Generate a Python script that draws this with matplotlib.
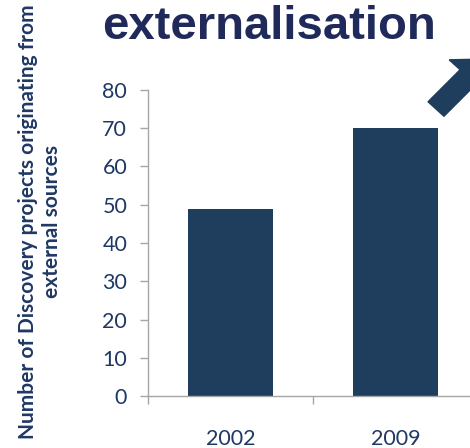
import matplotlib
matplotlib.use("Agg")
import matplotlib.pyplot as plt
from matplotlib.patches import FancyArrow

categories = ["2002", "2009"]
values = [49, 70]
yticks = [0, 10, 20, 30, 40, 50, 60, 70, 80]
title = "externalisation"
ylabel = "Number of Discovery projects originating from\nexternal sources"

W, H = 470, 448
fig = plt.figure(figsize=(W / 100, H / 100), dpi=100)
ax = fig.add_axes([148 / W, 1 - 396 / H, (478 - 148) / W, (396 - 90) / H])

bar_color = "#1f3d5c"
text_color = "#1f3864"
axis_color = "#a6a6a6"

x = list(range(len(categories)))
ax.bar(x, values, width=0.51, color=bar_color, zorder=2)
ax.set_xlim(-0.5, len(categories) - 0.5)
ax.set_ylim(0, 80)
ax.set_yticks(yticks)
ax.set_yticklabels([str(t) for t in yticks])

ax.set_xticks([i - 0.5 for i in range(len(categories) + 1)])
ax.set_xticklabels([])
ax.set_xticks(x, minor=True)
ax.set_xticklabels(categories, minor=True)
ax.tick_params(axis="x", which="major", direction="out", length=6, color=axis_color, width=1)
ax.tick_params(axis="x", which="minor", length=0, pad=24, labelsize=15.5, labelcolor=text_color)
ax.tick_params(axis="y", direction="out", length=6, color=axis_color, width=1, pad=9,
               labelsize=15.5, labelcolor=text_color)
for lbl in ax.get_xticklabels(minor=True) + ax.get_yticklabels():
    lbl.set_fontfamily("Lato")

for s in ["top", "right"]:
    ax.spines[s].set_visible(False)
for s in ["left", "bottom"]:
    ax.spines[s].set_color(axis_color)
    ax.spines[s].set_linewidth(1)

fig.text(269 / W, 1 - 39 / H, title, ha="center", va="baseline", fontsize=34,
         fontweight="bold", color="#1f2a5a", family="Liberation Sans")

fig.text(40 / W, 1 - 222 / H, ylabel, rotation=90, ha="center", va="center",
         fontsize=15, fontweight="bold", color=text_color, family="Lato",
         multialignment="center", linespacing=1.3)

arr = FancyArrow(436 / W, 1 - 109 / H, 50 / W, 50 / H, width=22 / W,
                 head_width=52 / W, head_length=26 / W, length_includes_head=True,
                 transform=fig.transFigure, color=bar_color, clip_on=False)
fig.patches.append(arr)

fig.savefig("out.png", dpi=100)
